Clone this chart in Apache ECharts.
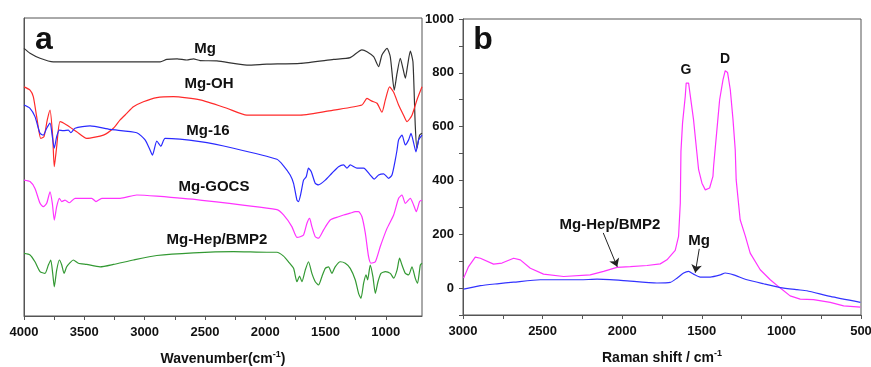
<!DOCTYPE html>
<html>
<head>
<meta charset="utf-8">
<script src="https://cdn.jsdelivr.net/npm/echarts@6/dist/echarts.min.js"></script>
<style>
  html, body { margin: 0; padding: 0; background: #fff; }
  #chart { width: 871px; height: 367px; }
</style>
</head>
<body>
<div id="chart"></div>
<script>
// ---- panel a: FTIR spectra (offset, arbitrary units) ----
const ftirMg = [[4000,89.8],[3950,88.2],[3867,86.5],[3757,85.3],[3369,85.3],[2871,85.3],[2816,86.1],[2730,86.3],[2650,85.9],[2595,86.3],[2540,85.7],[2401,85.6],[2152,84.2],[1986,84.5],[1710,84.8],[1433,86.1],[1295,86.7],[1198,89.3],[1156,88.7],[1101,87],[1060,83.7],[1032,87.6],[990,89.8],[963,87],[930,75.8],[907,81.4],[880,86.5],[858,83.1],[838,79.8],[819,84.2],[797,88.9],[775,85.3],[756,64.1],[742,56.3],[720,60.7],[700,61.3]];
const ftirOH = [[4000,76.9],[3950,75.8],[3923,73.6],[3895,66.9],[3861,59.6],[3834,60.2],[3807,65.8],[3784,69.1],[3762,60.2],[3749,50.1],[3729,56.8],[3701,65.2],[3646,64.1],[3563,61.8],[3480,59.6],[3342,60.7],[3259,63],[3203,65.8],[3148,68],[3093,70.2],[3010,71.9],[2899,73.3],[2761,73.6],[2540,72.5],[2318,69.7],[2152,67.4],[1710,67.4],[1433,69.1],[1198,70.8],[1156,73],[1115,72.1],[1073,71.4],[1032,68.4],[1004,72.5],[969,76.9],[935,75.1],[894,70.8],[853,67.4],[824,65.2],[783,67.4],[742,72.5],[700,76.9]];
const ftir16 = [[4000,70.8],[3950,69.7],[3909,66.9],[3867,61.3],[3840,60.7],[3812,63],[3784,64.7],[3765,60.2],[3749,56.3],[3729,60.2],[3707,62.4],[3674,62.2],[3632,62.4],[3612,61.5],[3577,63],[3452,63.8],[3286,62.6],[3065,61.5],[2996,59.1],[2955,55.7],[2935,54],[2899,58.7],[2865,57],[2830,59.6],[2540,58.5],[2263,56.3],[1903,52.6],[1848,50.4],[1793,47.3],[1765,44.5],[1737,38.9],[1724,38.4],[1704,41.2],[1682,45.6],[1660,46.7],[1641,49.6],[1618,48.4],[1585,44.5],[1558,44],[1502,45.6],[1447,47.9],[1392,50.1],[1350,50.7],[1322,49.6],[1295,50.7],[1239,49.6],[1184,49.6],[1129,47.3],[1096,45.9],[1060,47.3],[1018,47.7],[977,46.2],[949,47.3],[922,52.3],[907,55.7],[894,59.1],[866,60.7],[838,57.4],[811,59.1],[791,61.3],[769,58],[750,55.1],[728,59.1],[700,60.7]];
const ftirGOCS = [[4000,45.6],[3950,45.1],[3909,42.8],[3867,37.8],[3840,36.7],[3812,37.8],[3784,41.7],[3765,37.8],[3749,32.2],[3729,36.7],[3707,39.5],[3687,38.4],[3660,38.9],[3624,38],[3577,39.5],[3438,39.5],[3403,38.4],[3355,39.5],[3203,39.5],[3065,40.6],[2899,40.2],[2540,38.9],[1903,35.7],[1848,33.9],[1779,30],[1737,26.4],[1710,26.6],[1682,27.2],[1654,31.1],[1632,32.8],[1613,30],[1585,26.6],[1558,26.1],[1516,28.9],[1461,32.2],[1392,33.3],[1350,33.9],[1295,34.5],[1253,35],[1226,35],[1198,33.3],[1170,27.8],[1143,19.9],[1123,17.7],[1087,18.2],[1046,23.3],[990,29.4],[935,33.9],[894,39.5],[866,40.6],[838,37.8],[797,39.5],[769,37.2],[747,35],[720,38.4],[700,38.9]];
const ftirHep = [[4000,21],[3950,20.5],[3909,18.2],[3867,14.9],[3826,14.3],[3798,17.1],[3778,18.8],[3762,14.3],[3749,9.8],[3729,15.4],[3707,18.8],[3687,17.1],[3668,14.3],[3646,16.5],[3618,17.9],[3591,18.8],[3549,17.7],[3480,17.3],[3369,16.5],[3259,17.3],[3093,18.8],[2899,20.3],[2595,21.2],[2263,21.6],[1986,21.4],[1903,21.4],[1848,20.1],[1807,18.2],[1765,16],[1737,11.5],[1715,13.4],[1696,11.5],[1668,15.4],[1641,18.2],[1613,14.3],[1585,11.5],[1558,10.4],[1530,13.2],[1502,16],[1475,16.5],[1447,14.3],[1420,16.5],[1378,18.2],[1336,17.7],[1295,16],[1253,12.1],[1226,7.6],[1206,5.9],[1184,11],[1164,13.8],[1151,12.1],[1129,17.1],[1107,13.2],[1087,7.6],[1065,11.5],[1040,14.3],[1004,14.9],[963,14.3],[935,12.7],[907,15.4],[886,19.4],[866,17.1],[838,14.3],[811,13.8],[783,16.5],[756,12.7],[737,11],[714,17.1],[700,17.7]];

const ftirTicks = [1000,1250,1500,1750,2000,2250,2500,2750,3000,3250,3500,3750,4000];
const ftirLabels = [1000,1500,2000,2500,3000,3500,4000];

// ---- panel b: Raman spectra ----
const ramanHep = [[2996,37],[2965,80],[2923,115],[2891,111],[2808,89],[2755,93],[2682,111],[2640,105],[2577,74],[2494,52],[2368,43],[2201,49],[2117,62],[2033,77],[1949,80],[1844,84],[1761,90],[1719,105],[1667,140],[1646,192],[1635,316],[1631,508],[1621,613],[1604,712],[1598,762],[1583,762],[1573,718],[1552,626],[1535,526],[1520,440],[1499,390],[1478,365],[1451,372],[1430,415],[1426,452],[1409,563],[1388,700],[1367,774],[1353,808],[1338,801],[1321,737],[1304,626],[1290,514],[1284,402],[1259,254],[1226,192],[1196,130],[1133,68],[1070,31],[1007,0],[945,-29],[882,-41],[798,-43],[693,-53],[609,-66],[504,-71]];
const ramanMg = [[2996,-4],[2891,9],[2786,16],[2682,22],[2514,31],[2263,31],[2158,33],[1991,28],[1782,19],[1698,21],[1656,37],[1614,56],[1583,62],[1552,52],[1510,41],[1447,41],[1384,49],[1353,56],[1300,49],[1216,31],[1112,16],[1007,2],[902,-6],[840,-10],[693,-31],[504,-53]];

const ramanXTicks = [500,750,1000,1250,1500,1750,2000,2250,2500,2750,3000];
const ramanXLabels = [500,1000,1500,2000,2500,3000];
const ramanYTicks = [-100,0,100,200,300,400,500,600,700,800,900,1000];
const ramanYLabels = [0,200,400,600,800,1000];

const FONT = '"Liberation Sans", Arial, sans-serif';
const AXIS = '#555';

const chart = echarts.init(document.getElementById('chart'));

const tickLabel = {
    fontFamily: FONT, fontSize: 13, fontWeight: 'bold', color: '#111',
    formatter: v => String(v)
};
const nameRich = {
    b: { fontFamily: FONT, fontSize: 14, fontWeight: 'bold', color: '#111', lineHeight: 18 },
    s: { fontFamily: FONT, fontSize: 9, fontWeight: 'bold', color: '#111', lineHeight: 10, verticalAlign: 'top' }
};

function line(name, data, color, xi, smooth) {
    return {
        name, type: 'line', data, xAxisIndex: xi, yAxisIndex: xi,
        showSymbol: false, smooth: smooth, silent: true,
        lineStyle: { color, width: 1.2 }
    };
}

function label(text, x, y, size) {
    return {
        type: 'text', x, y,
        style: {
            text, fontFamily: FONT, fontSize: size, fontWeight: 'bold', fill: '#111',
            align: 'center', verticalAlign: 'middle'
        }
    };
}

const option = {
    animation: false,
    grid: [
        { left: 24, top: 18, right: 449, bottom: 51, outerBoundsMode: 'none', show: true, borderColor: AXIS, borderWidth: 1 },
        { left: 463, top: 19, right: 10, bottom: 52, outerBoundsMode: 'none', show: true, borderColor: AXIS, borderWidth: 1 }
    ],
    xAxis: [
        {
            type: 'value', gridIndex: 0, inverse: true, min: 700, max: 4000,
            axisLine: { onZero: false, lineStyle: { color: AXIS } },
            axisTick: { customValues: ftirTicks, length: 4, lineStyle: { color: AXIS } },
            axisLabel: Object.assign({ customValues: ftirLabels, margin: 10 }, tickLabel),
            splitLine: { show: false },
            name: '{b|Wavenumber(cm}{s|-1}{b|)}', nameLocation: 'middle', nameGap: 34,
            nameTextStyle: { rich: nameRich }
        },
        {
            type: 'value', gridIndex: 1, inverse: true, min: 500, max: 3000,
            axisLine: { onZero: false, lineStyle: { color: AXIS } },
            axisTick: { customValues: ramanXTicks, length: 4, lineStyle: { color: AXIS } },
            axisLabel: Object.assign({ customValues: ramanXLabels, margin: 10 }, tickLabel),
            splitLine: { show: false },
            name: '{b|Raman shift / cm}{s|-1}', nameLocation: 'middle', nameGap: 34,
            nameTextStyle: { rich: nameRich }
        }
    ],
    yAxis: [
        {
            type: 'value', gridIndex: 0, min: 0, max: 100,
            axisLine: { show: true, onZero: false, lineStyle: { color: AXIS } },
            axisTick: { show: false }, axisLabel: { show: false }, splitLine: { show: false }
        },
        {
            type: 'value', gridIndex: 1, min: -100, max: 1000,
            axisLine: { show: true, onZero: false, lineStyle: { color: AXIS } },
            axisTick: { customValues: ramanYTicks, length: 4, lineStyle: { color: AXIS } },
            axisLabel: Object.assign({ customValues: ramanYLabels, margin: 9 }, tickLabel),
            splitLine: { show: false }
        }
    ],
    series: [
        line('Mg', ftirMg, '#333333', 0, 0.2),
        line('Mg-OH', ftirOH, '#ff2a2a', 0, 0.2),
        line('Mg-16', ftir16, '#2a2aff', 0, 0.2),
        line('Mg-GOCS', ftirGOCS, '#ff33ff', 0, 0.2),
        line('Mg-Hep/BMP2', ftirHep, '#339933', 0, 0.2),
        Object.assign(line('Raman Mg-Hep/BMP2', ramanHep, '#ff33ff', 1, false), {
            markLine: {
                silent: true, symbol: ['none', 'arrow'], symbolSize: 8,
                label: { show: false },
                lineStyle: { color: '#222', width: 1, type: 'solid' },
                data: [
                    [{ coord: [2119, 205] }, { coord: [2031, 79] }],
                    [{ coord: [1516, 146] }, { coord: [1541, 57] }]
                ]
            }
        }),
        line('Raman Mg', ramanMg, '#3333ff', 1, 0.2)
    ],
    graphic: [
        label('a', 44, 40, 32),
        label('b', 483, 40, 32),
        label('Mg', 205, 49, 15),
        label('Mg-OH', 209, 84, 15),
        label('Mg-16', 208, 131, 15),
        label('Mg-GOCS', 214, 187, 15),
        label('Mg-Hep/BMP2', 217, 240, 15),
        label('G', 686, 70, 14),
        label('D', 725, 59, 14),
        label('Mg-Hep/BMP2', 610, 225, 15),
        label('Mg', 699, 241, 15)
    ]
};

chart.setOption(option);
</script>
</body>
</html>
